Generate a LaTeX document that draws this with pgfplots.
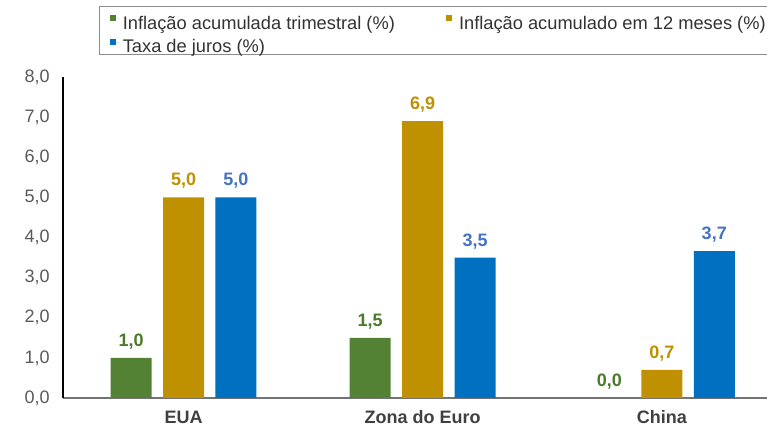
\documentclass[border=0pt]{standalone}
\usepackage{pgfplots}
\pgfplotsset{compat=1.18}
\usepackage{fontspec}
\setmainfont{Liberation Sans}
\definecolor{cgreen}{HTML}{548235}
\definecolor{cgold}{HTML}{BF9000}
\definecolor{cblue}{HTML}{0070C0}
\definecolor{lgreen}{HTML}{4A7A2A}
\definecolor{lblue}{HTML}{4472C4}
\definecolor{tgray}{HTML}{595959}
\begin{document}
\begin{tikzpicture}[x=1pt,y=1pt]
\useasboundingbox (-47.25,-21.75) rectangle (528,298.5);
\begin{axis}[
  scale only axis, width=528pt, height=240.75pt,
  xmin=-0.504, xmax=2.44, ymin=0, ymax=8,
  ytick={0,1,...,8}, xtick={0,1,2}, xticklabels={EUA,Zona do Euro,China},
  ybar=8.6pt, bar width=30.75pt,
  axis x line*=bottom, axis y line*=left,
  x axis line style={draw=black!55, line width=1.1pt, -},
  y axis line style={draw=black, line width=0.8pt, -},
  major tick length=0pt,
  clip=false,
  font=\fontsize{13.5}{16}\selectfont,
  /pgf/number format/.cd, use comma, fixed, fixed zerofill, precision=1, assume math mode=true,
  /pgfplots/.cd,
  yticklabel style={text=tgray, font=\fontsize{13.5}{16}\selectfont},
  yticklabel shift=6.5pt,
  xticklabel style={text=black!75, font=\fontsize{13.5}{16}\selectfont\bfseries},
  xticklabel shift=6pt,
  nodes near coords,
  nodes near coords style={font=\fontsize{13.5}{16}\selectfont\bfseries, yshift=3pt},
  legend columns=2,
  legend cell align=left,
  legend style={at={(0.0511,1.221)}, anchor=north west, draw=black!45, line width=0.6pt,
    font=\fontsize{13.7}{16}\selectfont, text=black!80,
    inner xsep=8pt, inner ysep=0pt, row sep=0pt,
    nodes={inner ysep=0pt},
    /tikz/every even column/.append style={column sep=36.5pt}},
  legend image code/.code={\fill[#1] (0pt,-1.5pt) rectangle (4.6pt,3.1pt); \path (0pt,0pt) -- (7.6pt,0pt);},
]
\addplot[fill=cgreen, draw=none, nodes near coords style={text=lgreen}] coordinates {(0,1.0) (1,1.5) (2,0.0)};
\addplot[fill=cgold, draw=none, nodes near coords style={text=cgold}] coordinates {(0,5.0) (1,6.9) (2,0.7)};
\addplot[fill=cblue, draw=none, nodes near coords style={text=lblue}] coordinates {(0,5.0) (1,3.5) (2,3.66)};
\legend{\rule{0pt}{17pt}Inflação acumulada trimestral (\%), \rule{0pt}{17pt}Inflação acumulado em 12 meses (\%), \rule{0pt}{16pt}Taxa de juros (\%)}
\end{axis}
\end{tikzpicture}
\end{document}
